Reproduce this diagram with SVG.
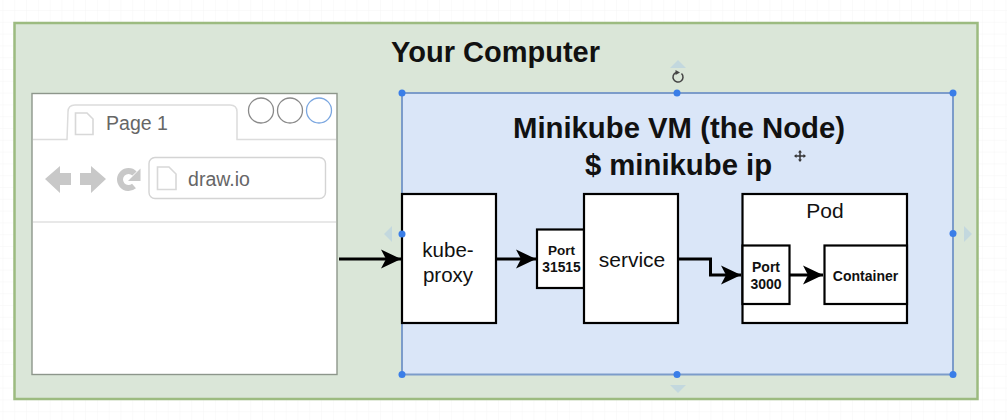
<svg xmlns="http://www.w3.org/2000/svg" width="1007" height="420" viewBox="0 0 1007 420">
<defs>
<pattern id="grid" width="11.8" height="11.8" patternUnits="userSpaceOnUse" x="2.5" y="10"><path d="M11.8 0H0V11.8" fill="none" stroke="#f5f5f5" stroke-width="1"/></pattern>
<marker id="arr" markerUnits="userSpaceOnUse" markerWidth="22" markerHeight="22" refX="20" refY="10" orient="auto" overflow="visible"><path d="M0 0.500L20 10L0 19.500L5 10Z" fill="#000"/></marker>
</defs>
<style>
text{font-family:"Liberation Sans",Arial,sans-serif;text-anchor:middle;fill:#111}
.box{fill:#fff;stroke:#000;stroke-width:2.2}
.conn{fill:none;stroke:#000;stroke-width:3}
.ui{fill:#c8c8c8}
.page{fill:#fff;stroke:#d8d8d8;stroke-width:1.6}
.handle{fill:#3a7ee8}
.hint{fill:#c3d8de}
.b{font-weight:bold}
</style>
<rect width="1007" height="420" fill="#fff"/>
<rect width="1007" height="420" fill="url(#grid)"/>
<g id="computer">
<rect x="14.500" y="23" width="963" height="376" fill="#dae6d8" stroke="#9cbb80" stroke-width="2.500"/>
<text x="495.500" y="62" font-size="29" class="b">Your Computer</text>
</g>
<g id="browser">
<rect x="32" y="93.500" width="305" height="281" fill="#fff" stroke="#8d968b" stroke-width="1.400"/>
<path d="M33 139.500H67L68 112Q68 105 75 105H230Q237 105 237 112V139.500H336" fill="#fff" stroke="#dcdcdc" stroke-width="1.500"/>
<path d="M75.500 113H87L93 119V134.500H75.500Z" class="page"/>
<text x="137" y="130" font-size="19.500" style="fill:#666">Page 1</text>
<circle cx="261" cy="110.500" r="12.500" fill="#fff" stroke="#8a8a8a" stroke-width="1.300"/>
<circle cx="290" cy="110.500" r="12.500" fill="#fff" stroke="#8a8a8a" stroke-width="1.300"/>
<circle cx="319" cy="110.500" r="12.500" fill="#fff" stroke="#7ba7e0" stroke-width="1.300"/>
<path d="M45 179L60 166V173H71V185H60V193Z" class="ui"/>
<path d="M106 179L91 166V173H80V185H91V193Z" class="ui"/>
<path d="M134.500 173.500A8.500 8.500 0 1 0 134 186" fill="none" stroke="#c8c8c8" stroke-width="6"/>
<path d="M140.500 168.500V181H128Z" class="ui"/>
<rect x="149" y="157.500" width="176.500" height="41" rx="6" fill="#fff" stroke="#d4d4d4" stroke-width="1.400"/>
<path d="M157.500 167H169L176 174V189.500H157.500Z" class="page"/>
<text x="219" y="186" font-size="19.500" style="fill:#666">draw.io</text>
<path d="M33 222H336" stroke="#e0e0e0" stroke-width="1.500"/>
</g>
<g id="vm">
<rect x="402" y="93" width="551" height="281.500" fill="#dae6f8" stroke="#7c9cca" stroke-width="2"/>
<text x="679" y="138" font-size="29.300" class="b">Minikube VM (the Node)</text>
<text x="678.500" y="175" font-size="29.300" class="b">$ minikube ip</text>
</g>
<g id="kube-proxy">
<rect x="402" y="194" width="94" height="129" class="box"/>
<text x="448" y="257" font-size="20.500">kube-</text>
<text x="448" y="282" font-size="20.500">proxy</text>
</g>
<g id="port-31515">
<rect x="537" y="229.500" width="47" height="58.500" class="box"/>
<text x="561.500" y="255" font-size="13.500" class="b">Port</text>
<text x="561.500" y="272" font-size="13.800" class="b">31515</text>
</g>
<g id="service">
<rect x="584" y="194" width="94" height="129" class="box"/>
<text x="632" y="267" font-size="21">service</text>
</g>
<g id="pod">
<rect x="742.500" y="194" width="164.500" height="129" class="box"/>
<text x="825" y="218" font-size="21">Pod</text>
</g>
<g id="port-3000">
<rect x="742.500" y="245.500" width="47" height="58.500" class="box"/>
<text x="766" y="272" font-size="14" class="b">Port</text>
<text x="766" y="289" font-size="14" class="b">3000</text>
</g>
<g id="container">
<rect x="824.500" y="245.500" width="82.500" height="58.500" class="box"/>
<text x="865.500" y="281" font-size="14" class="b">Container</text>
</g>
<g id="connectors">
<path d="M339 259H401" class="conn" marker-end="url(#arr)"/>
<path d="M497 259H536" class="conn" marker-end="url(#arr)"/>
<path d="M679 259H710.500V275H741" class="conn" marker-end="url(#arr)"/>
<path d="M790 275H823" class="conn" marker-end="url(#arr)"/>
</g>
<g id="selection">
<circle cx="402" cy="93" r="3.500" class="handle"/>
<circle cx="677" cy="93" r="3.500" class="handle"/>
<circle cx="953" cy="93" r="3.500" class="handle"/>
<circle cx="402" cy="234" r="3.500" class="handle"/>
<circle cx="953" cy="233.500" r="3.500" class="handle"/>
<circle cx="402" cy="374.500" r="3.500" class="handle"/>
<circle cx="677" cy="374.500" r="3.500" class="handle"/>
<circle cx="953" cy="374.500" r="3.500" class="handle"/>
<path d="M670 68L678 60L686 68Z" class="hint"/>
<path d="M670 385L686 385L678 393Z" class="hint"/>
<path d="M392 226V242L384 234Z" class="hint"/>
<path d="M964 226V242L972 234Z" class="hint"/>
<path d="M681.500 73.500A5 5 0 1 1 676 72.500" fill="none" stroke="#444" stroke-width="1.500"/>
<path d="M675.500 70L680 72.500L675.500 75Z" fill="#444"/>
<path d="M800 152V160M796 156H804" stroke="#333" stroke-width="1.500"/>
<path d="M800 150L802 152.500H798ZM800 162L802 159.500H798ZM794 156L796.500 154V158ZM806 156L803.500 154V158Z" fill="#333"/>
</g>
</svg>
